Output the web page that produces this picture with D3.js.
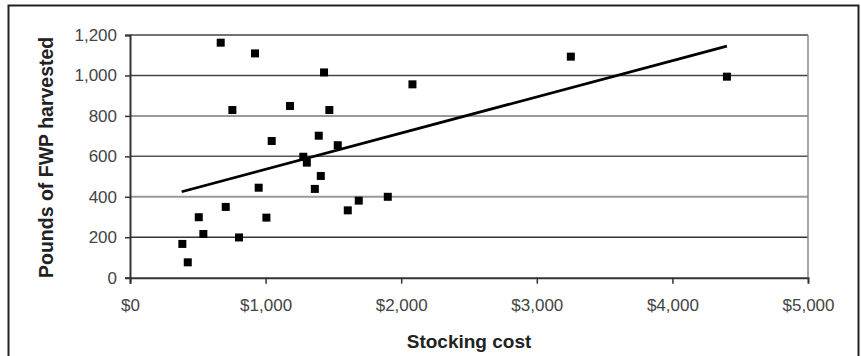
<!DOCTYPE html>
<html><head><meta charset="utf-8">
<script src="https://cdn.jsdelivr.net/npm/d3@7/dist/d3.min.js"></script>
<style>html,body{margin:0;padding:0;background:#fff;}svg{display:block;}</style>
</head><body>
<svg id="chart" width="861" height="356"></svg>
<script>
// Data
const stockingCost = [669, 922, 1431, 755, 1180, 1470, 1045, 1392, 1532, 1278, 1304, 1407, 1363, 949, 706, 507, 1006, 541, 804, 386, 426, 1606, 1687, 1901, 2083, 3251, 4402];
const poundsHarvested = [1162, 1109, 1015, 829, 849, 829, 676, 702, 655, 598, 569, 503, 439, 445, 350, 299, 297, 216, 199, 167, 76, 333, 381, 400, 956, 1093, 994];
const trendX = [381, 4402];
const trendY = [425, 1145];
const xTicks = [0, 1000, 2000, 3000, 4000, 5000];
const yTicks = [0, 200, 400, 600, 800, 1000, 1200];
const xTitle = "Stocking cost";
const yTitle = "Pounds of FWP harvested";

const svg = d3.select("#chart");
const L = 130, R = 808, T = 35, B = 277.7;
const x = d3.scaleLinear().domain([0, 5000]).range([L, R]);
const y = d3.scaleLinear().domain([0, 1200]).range([B, T]);

// outer frame
svg.append("path")
  .attr("d", `M8.5,370 V5.5 H858.5 V370`)
  .attr("fill", "none").attr("stroke", "#222").attr("stroke-width", 2);

// gridlines
const gridCol = ["#333", "#333", "#999", "#555", "#999", "#444", "#444"];
svg.append("g").selectAll("line").data(yTicks.filter(d => d > 0)).join("line")
  .attr("x1", L).attr("x2", R)
  .attr("y1", d => y(d)).attr("y2", d => y(d))
  .attr("stroke", (d, i) => gridCol[i + 1])
  .attr("stroke-width", (d, i) => gridCol[i + 1] === "#999" ? 2 : 1.5);

// right plot border
svg.append("line").attr("x1", R).attr("x2", R).attr("y1", T).attr("y2", B)
  .attr("stroke", "#888").attr("stroke-width", 1.5);

// axes
const fmtY = d3.format(",");
const fmtX = d => "$" + d3.format(",")(d);
const yAxis = svg.append("g").attr("transform", `translate(${L},0)`)
  .call(d3.axisLeft(y).tickValues(yTicks).tickFormat(fmtY).tickSize(5).tickPadding(8));
const xAxis = svg.append("g").attr("transform", `translate(0,${B})`)
  .call(d3.axisBottom(x).tickValues(xTicks).tickFormat(fmtX).tickSize(6).tickPadding(15));
[yAxis, xAxis].forEach(a => {
  a.select(".domain").attr("stroke", "#333").attr("stroke-width", 2);
  a.selectAll(".tick line").attr("stroke", "#333").attr("stroke-width", 1.5);
  a.selectAll("text").attr("fill", "#444")
    .style("font-family", "'Liberation Sans', Arial, sans-serif").style("font-size", "17px");
});
xAxis.selectAll(".tick").filter(d => d === 5000).select("line").remove();

// trend line
svg.append("line")
  .attr("x1", x(trendX[0])).attr("y1", y(trendY[0]))
  .attr("x2", x(trendX[1])).attr("y2", y(trendY[1]))
  .attr("stroke", "#000").attr("stroke-width", 2.8);

// points
const s = 8;
svg.append("g").selectAll("rect").data(stockingCost.map((c, i) => [c, poundsHarvested[i]])).join("rect")
  .attr("x", d => x(d[0]) - s / 2).attr("y", d => y(d[1]) - s / 2)
  .attr("width", s).attr("height", s).attr("fill", "#000");

// titles
svg.append("text").attr("x", (L + R) / 2).attr("y", 348)
  .attr("text-anchor", "middle")
  .style("font-family", "'Liberation Sans', Arial, sans-serif").style("font-size", "19px").style("font-weight", "bold")
  .attr("fill", "#222").text(xTitle);
svg.append("text").attr("transform", `translate(53,${(T + B) / 2 + 1}) rotate(-90)`)
  .attr("text-anchor", "middle")
  .style("font-family", "'Liberation Sans', Arial, sans-serif").style("font-size", "19.5px").style("font-weight", "bold")
  .attr("fill", "#222").text(yTitle);
</script>
</body></html>
